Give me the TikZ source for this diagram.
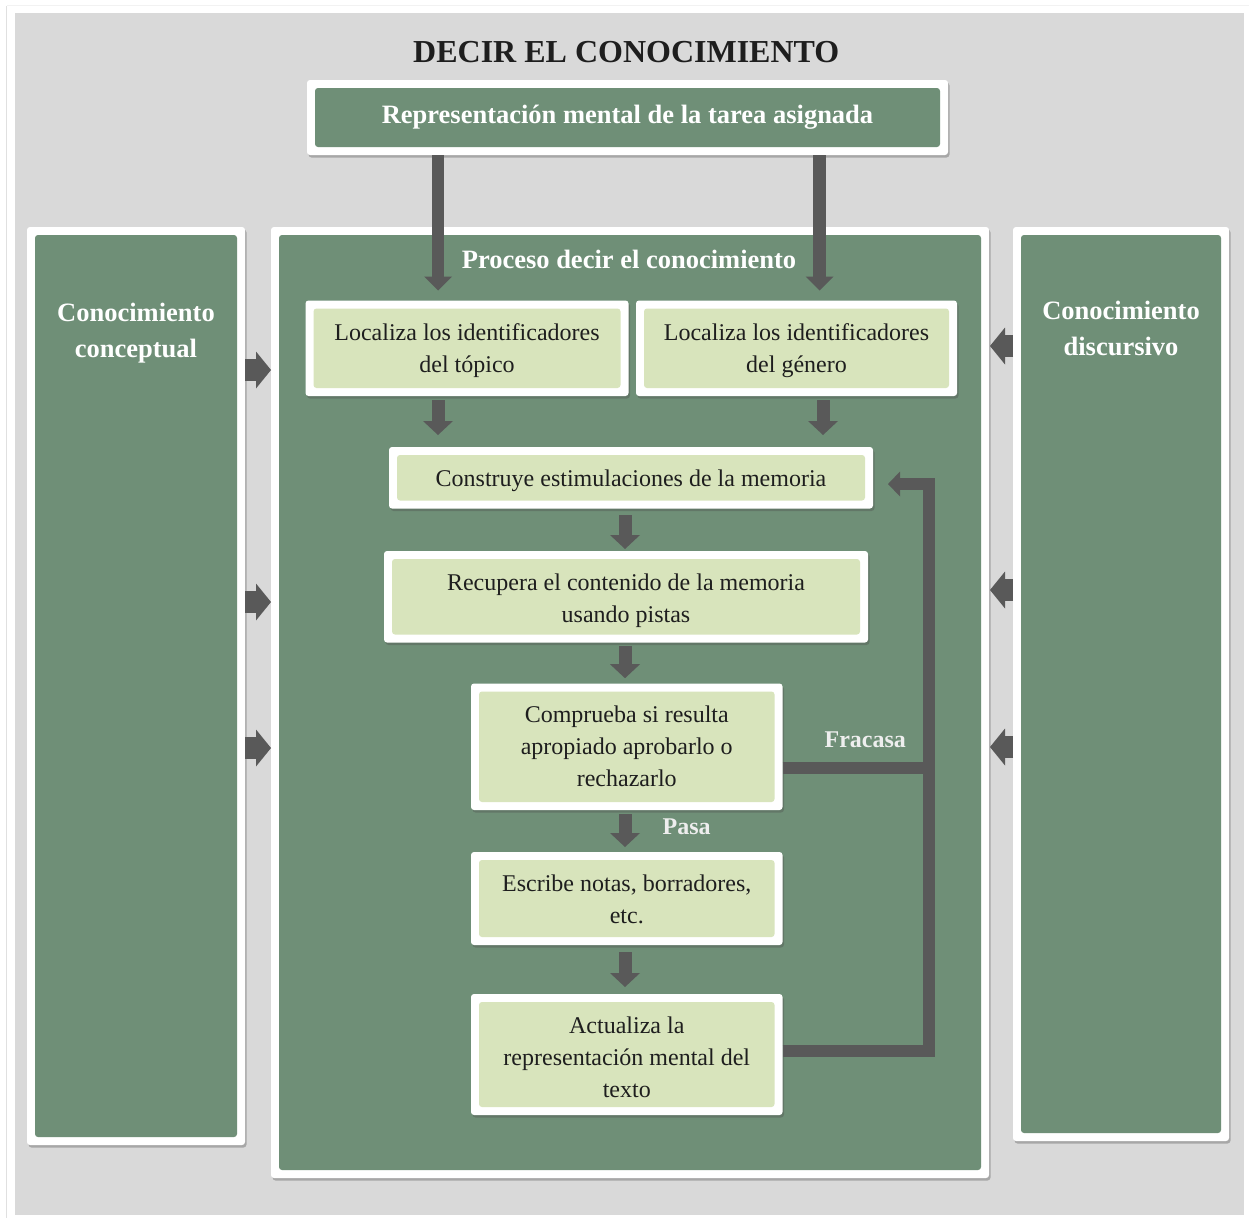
\documentclass[tikz,border=0pt]{standalone}
\usepackage{fontspec}
\setmainfont{Liberation Serif}
\usetikzlibrary{arrows.meta,shadows,calc}
\definecolor{bggray}{HTML}{D9D9D9}
\definecolor{dkgreen}{HTML}{6F8F77}
\definecolor{ltgreen}{HTML}{D8E4BC}
\definecolor{arrgray}{HTML}{595959}
\definecolor{txtdark}{HTML}{1E1E1E}
\definecolor{lbl}{HTML}{EEEEEE}
\newcommand\pushdown[1]{\rule{0pt}{#1}}
\tikzset{
  framebox/.style={fill=white, rounded corners=3pt, inner sep=0pt, outer sep=0pt,
    drop shadow={shadow xshift=1.5pt, shadow yshift=-2.5pt, opacity=0.35, fill=black!70},
    path picture={\fill[#1] ([shift={(8pt,8pt)}]path picture bounding box.south west) rectangle ([shift={(-8pt,-8pt)}]path picture bounding box.north east);}},
  boxtxt/.style={font=\fontsize{24}{32}\selectfont, text=txtdark, align=center},
  headtxt/.style={font=\fontsize{26.5}{36}\selectfont\bfseries, text=white, align=center},
  lbltxt/.style={font=\fontsize{24}{30}\selectfont\bfseries, text=lbl},
  bigarr/.style={draw=arrgray, line width=12.7pt, -{Triangle[width=28pt,length=14pt,line width=0pt]}},
  midarr/.style={draw=arrgray, line width=13pt, -{Triangle[width=30pt,length=14pt,line width=0pt]}},
  sidearr/.style={draw=arrgray, line width=22.7pt, -{Triangle[width=37pt,length=15pt,line width=0pt]}},
  fbline/.style={draw=arrgray, line width=12pt, line join=miter},
  fbarr/.style={fbline, -{Triangle[width=25pt,length=12pt,line width=0pt]}}
}
\begin{document}
\begin{tikzpicture}[x=1pt, y=-1pt]
\useasboundingbox (0,0) rectangle (1249,1218);
% page frame
\fill[white] (0,0) rectangle (1249,1218);
\draw[black!12, line width=1.5pt] (6.5,1218) -- (6.5,5.5);
\draw[black!5, line width=1pt] (6.5,5.5) -- (1249,5.5);
\fill[bggray] (15,13) rectangle (1244,1215);

% title
\node[font=\fontsize{32}{38}\selectfont\bfseries, text=txtdark, anchor=base] (title) at (626.3,62.7) {DECIR EL CONOCIMIENTO};

% large panels
\node[framebox=dkgreen, minimum width=641pt, minimum height=75pt, headtxt] (top) at (627.5,117.5) {Representación mental de la tarea asignada};
\node[framebox=dkgreen, minimum width=218pt, minimum height=918pt] (L) at (136,686) {};
\node[framebox=dkgreen, minimum width=718pt, minimum height=951pt] (M) at (630,702.5) {};
\node[framebox=dkgreen, minimum width=216pt, minimum height=914pt] (R) at (1121,684) {};

\node[headtxt, anchor=north] (Ltxt) at (136,300) {Conocimiento\\conceptual};
\node[headtxt, anchor=north] (Rtxt) at (1121,298) {Conocimiento\\discursivo};
\node[headtxt, anchor=base] (Mtxt) at (629,268) {Proceso decir el conocimiento};

% inner boxes
\node[framebox=ltgreen, minimum width=323pt, minimum height=95.5pt, boxtxt] (A) at (467,348.25) {\pushdown{21pt}Localiza los identificadores\\del tópico};
\node[framebox=ltgreen, minimum width=321pt, minimum height=95.5pt, boxtxt] (B) at (796.5,348.25) {\pushdown{21pt}Localiza los identificadores\\del género};
\node[framebox=ltgreen, minimum width=484pt, minimum height=61.5pt, boxtxt] (C) at (631,477.75) {\pushdown{22.5pt}Construye estimulaciones de la memoria};
\node[framebox=ltgreen, minimum width=484pt, minimum height=91.5pt, boxtxt] (D) at (626,596.75) {\pushdown{25pt}Recupera el contenido de la memoria\\usando pistas};
\node[framebox=ltgreen, minimum width=311.5pt, minimum height=126.5pt, boxtxt] (E) at (626.75,746.75) {Comprueba si resulta\\apropiado aprobarlo o\\rechazarlo};
\node[framebox=ltgreen, minimum width=311.5pt, minimum height=93pt, boxtxt] (F) at (626.75,898.5) {\pushdown{18.5pt}Escribe notas, borradores,\\etc.};
\node[framebox=ltgreen, minimum width=311.5pt, minimum height=121pt, boxtxt] (G) at (626.75,1054.5) {\pushdown{22.5pt}Actualiza la\\representación mental del\\texto};

% arrows from top box
\draw[bigarr, shorten >=10pt] (top.south -| 438,0) -- (A.north -| 438,0);
\draw[bigarr, shorten >=10pt] (top.south -| 819.7,0) -- (B.north -| 819.7,0);

% flow arrows
\draw[midarr, shorten <=4pt, shorten >=12pt] (A.south -| 438,0) -- (C.north -| 438,0);
\draw[midarr, shorten <=4pt, shorten >=12pt] (B.south -| 823,0) -- (C.north -| 823,0);
\draw[midarr, shorten <=6.7pt, shorten >=2pt] (C.south -| 625,0) -- (D.north -| 625,0);
\draw[midarr, shorten <=3.3pt, shorten >=5.3pt] (D.south -| 625,0) -- (E.north -| 625,0);
\draw[midarr, shorten <=4pt, shorten >=5pt] (E.south -| 625,0) -- (F.north -| 625,0);
\draw[midarr, shorten <=7pt, shorten >=7pt] (F.south -| 625,0) -- (G.north -| 625,0);

% side arrows
\draw[sidearr] (L.east |- 0,370) -- (M.west |- 0,370);
\draw[sidearr] (L.east |- 0,602) -- (M.west |- 0,602);
\draw[sidearr] (L.east |- 0,748) -- (M.west |- 0,748);
\draw[sidearr, shorten >=1pt] (R.west |- 0,346) -- (M.east |- 0,346);
\draw[sidearr, shorten >=1pt] (R.west |- 0,590) -- (M.east |- 0,590);
\draw[sidearr, shorten >=1pt] (R.west |- 0,747) -- (M.east |- 0,747);

% feedback loop
\coordinate (fbmid) at (929,768);
\coordinate (fbbot) at (929,1050.5);
\coordinate (fbtop) at (929,484);
\draw[fbline] (E.east |- fbmid) -- (fbmid);
\draw[fbarr, shorten >=15pt] (G.east |- fbbot) -- (fbbot) -- (fbtop) -- (C.east |- fbtop);

% labels
\node[lbltxt, anchor=base] (fracasa) at (865.3,747.3) {Fracasa};
\node[lbltxt, anchor=base] (pasa) at (686.7,834) {Pasa};
\end{tikzpicture}
\end{document}
